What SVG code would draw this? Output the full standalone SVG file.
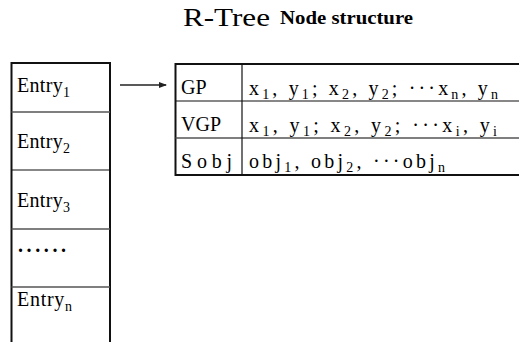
<svg xmlns="http://www.w3.org/2000/svg" width="519" height="342" viewBox="0 0 519 342" font-family="'Liberation Serif', 'Times New Roman', serif">
  <style>
    text { fill: #000; }
    .t { font-size: 20px; }
    .sub { font-size: 14px; }
    .title { font-size: 25px; }
    .title2 { font-size: 18px; font-weight: bold; }
    .outer { fill: none; stroke: #111; stroke-width: 2; }
    .sep { stroke: #555; stroke-width: 1.5; }
    .thin { stroke: #111; stroke-width: 1.2; }
    .conn { stroke: #222; stroke-width: 1.3; fill: none; }
  </style>
  <defs>
    <marker id="arrow" viewBox="0 0 8 6" refX="7" refY="3" markerWidth="8" markerHeight="6" markerUnits="userSpaceOnUse" orient="auto">
      <path d="M0,0 L8,3 L0,6 z" fill="#222"/>
    </marker>
  </defs>

  <!-- heading -->
  <g id="title">
    <text class="title" x="183" y="26" textLength="87" lengthAdjust="spacingAndGlyphs">R-Tree</text>
    <text class="title2" x="280" y="24" textLength="133" lengthAdjust="spacingAndGlyphs">Node structure</text>
  </g>

  <!-- entry list of the node -->
  <g id="entries">
    <path class="outer" d="M11.5,342 V63 H110 V342"/>
    <line class="sep" x1="11.5" y1="112" x2="110" y2="112"/>
    <line class="thin" x1="11.5" y1="170" x2="110" y2="170"/>
    <line class="sep" x1="11.5" y1="229" x2="110" y2="229"/>
    <line class="sep" x1="11.5" y1="287" x2="110" y2="287"/>
    <text class="t" x="17" y="92" textLength="53" lengthAdjust="spacing">Entry<tspan class="sub" dy="5">1</tspan></text>
    <text class="t" x="17" y="148" textLength="53" lengthAdjust="spacing">Entry<tspan class="sub" dy="5">2</tspan></text>
    <text class="t" x="17" y="207" textLength="53" lengthAdjust="spacing">Entry<tspan class="sub" dy="5">3</tspan></text>
    <text class="t" x="18" y="252" textLength="48" lengthAdjust="spacing" style="font-weight:bold">......</text>
    <text class="t" x="17" y="306" textLength="55" lengthAdjust="spacing">Entry<tspan class="sub" dy="5">n</tspan></text>
  </g>

  <!-- per-entry record -->
  <g id="record">
    <path class="outer" d="M519,64 H175.5 V175 H519"/>
    <line class="thin" x1="175.5" y1="101" x2="519" y2="101"/>
    <line class="sep" x1="175.5" y1="138" x2="519" y2="138"/>
    <line class="thin" x1="242" y1="64" x2="242" y2="175"/>
    <text class="t" x="181" y="94">GP</text>
    <text class="t" x="181" y="131">VGP</text>
    <text class="t" x="181" y="168" textLength="51" lengthAdjust="spacing">Sobj</text>
    <text class="t" x="249" y="95" textLength="249" lengthAdjust="spacing">x<tspan class="sub" dy="4">1</tspan><tspan dy="-4">, y</tspan><tspan class="sub" dy="4">1</tspan><tspan dy="-4">; x</tspan><tspan class="sub" dy="4">2</tspan><tspan dy="-4">, y</tspan><tspan class="sub" dy="4">2</tspan><tspan dy="-4">; ···x</tspan><tspan class="sub" dy="4">n</tspan><tspan dy="-4">, y</tspan><tspan class="sub" dy="4">n</tspan></text>
    <text class="t" x="249" y="132" textLength="248" lengthAdjust="spacing">x<tspan class="sub" dy="4">1</tspan><tspan dy="-4">, y</tspan><tspan class="sub" dy="4">1</tspan><tspan dy="-4">; x</tspan><tspan class="sub" dy="4">2</tspan><tspan dy="-4">, y</tspan><tspan class="sub" dy="4">2</tspan><tspan dy="-4">; ···x</tspan><tspan class="sub" dy="4">i</tspan><tspan dy="-4">, y</tspan><tspan class="sub" dy="4">i</tspan></text>
    <text class="t" x="249" y="168" textLength="196" lengthAdjust="spacing">obj<tspan class="sub" dy="4">1</tspan><tspan dy="-4">, obj</tspan><tspan class="sub" dy="4">2</tspan><tspan dy="-4">, ···obj</tspan><tspan class="sub" dy="4">n</tspan></text>
  </g>

  <!-- connector -->
  <g id="connectors">
    <line class="conn" x1="120" y1="85" x2="166" y2="85" marker-end="url(#arrow)"/>
  </g>
</svg>
